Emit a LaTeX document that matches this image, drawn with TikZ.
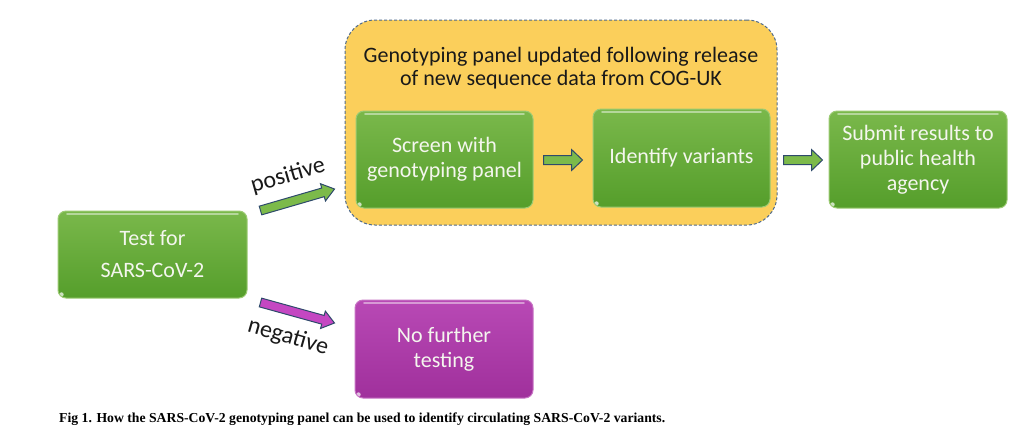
\documentclass[tikz,border=0pt]{standalone}
\usepackage{fontspec}
\setmainfont{Carlito}
\newfontfamily\capfont{Liberation Serif}
\usetikzlibrary{calc}
\definecolor{gtop}{HTML}{7AB84B}
\definecolor{gbot}{HTML}{559E2B}
\definecolor{gedge}{HTML}{9CCB74}
\definecolor{mtop}{HTML}{B849B5}
\definecolor{mbot}{HTML}{A0309C}
\definecolor{medge}{HTML}{C774C4}
\definecolor{panel}{HTML}{FBCF5B}
\definecolor{paneledge}{HTML}{4F6B8C}
\definecolor{arrowedge}{HTML}{2E4A6B}
\definecolor{garrow}{HTML}{7CBA4A}
\definecolor{marrow}{HTML}{C447C2}
\definecolor{boxtext}{HTML}{F4F6EE}
\newcommand\blockarrow[6]{%
  \coordinate (ba-H) at ($(#3)!#6!(#2)$);
  \filldraw[#1] ($(#2)!#4!90:(#3)$) -- ($(ba-H)!#4!-90:(#2)$) -- ($(ba-H)!#5!-90:(#2)$)
    -- (#3) -- ($(ba-H)!#5!90:(#2)$) -- ($(ba-H)!#4!90:(#2)$) -- ($(#2)!#4!-90:(#3)$) -- cycle;}
\tikzset{
  gloss/.style={path picture={
    \draw[white,opacity=0.45,line width=1.6pt,line cap=round]
      ([xshift=9pt,yshift=-3pt]path picture bounding box.north west) --
      ([xshift=-9pt,yshift=-3pt]path picture bounding box.north east);
    \fill[white,opacity=0.7] ([xshift=3.5pt,yshift=3.5pt]path picture bounding box.south west) circle (2.2pt);}},
  greenbox/.style={rectangle, rounded corners=8pt, top color=gtop, bottom color=gbot,
    draw=gedge, line width=1pt, text=boxtext, align=center,
    font=\fontsize{22}{25}\selectfont, gloss},
  magbox/.style={greenbox, top color=mtop, bottom color=mbot, draw=medge},
  panelbox/.style={rectangle, rounded corners=30pt, fill=panel, draw=paneledge,
    dash pattern=on 3pt off 2pt, line width=1pt},
  garrowsty/.style={fill=garrow, draw=arrowedge, line width=1pt, line join=miter},
  marrowsty/.style={fill=marrow, draw=arrowedge, line width=1pt, line join=miter},
  lbl/.style={font=\fontsize{24}{28}\selectfont, text=black!90, inner sep=1pt}
}
\begin{document}
\begin{tikzpicture}[x=1pt,y=-1pt]
\useasboundingbox[fill=white] (0,0) rectangle (1024,432);
% panel
\node[panelbox, minimum width=432pt, minimum height=205pt] (panel) at (561,122.5) {};
\node[font=\fontsize{22}{23.5}\selectfont, text=black!90, align=center] (ptitle) at (561,68)
  {Genotyping panel updated following release\\of new sequence data from COG-UK};
% boxes
\node[greenbox, minimum width=189pt, minimum height=87pt] (test) at (152.5,254.5)
  {Test for\\[7pt]SARS-CoV-2};
\node[greenbox, minimum width=177pt, minimum height=97pt] (screen) at (444.5,159.5)
  {Screen with\\genotyping panel};
\node[greenbox, minimum width=177pt, minimum height=98pt] (ident) at (681.5,158)
  {Identify variants};
\node[greenbox, minimum width=178pt, minimum height=97pt] (submit) at (918,159.5)
  {Submit results to\\public health\\agency};
\node[magbox, minimum width=178pt, minimum height=98pt] (nofurther) at (444,349)
  {No further\\testing};
% arrow end points
\coordinate (pa) at ($(test.north east)+(13,0)$);
\coordinate (pb) at ($(screen.west)+(-21,29.5)$);
\coordinate (na) at ($(test.south east)+(13,4)$);
\coordinate (nb) at ($(nofurther.west)+(-20,-26)$);
\coordinate (sa) at ($(screen.east)+(10,0.5)$);
\coordinate (sb) at ($(ident.west)+(-10,2)$);
\coordinate (ia) at ($(ident.east)+(13,2)$);
\coordinate (ib) at ($(submit.west)+(-6,0.5)$);
\blockarrow{garrowsty}{pa}{pb}{4.5pt}{9pt}{12pt}
\blockarrow{marrowsty}{na}{nb}{4.5pt}{9pt}{12pt}
\blockarrow{garrowsty}{sa}{sb}{4.5pt}{10.5pt}{11pt}
\blockarrow{garrowsty}{ia}{ib}{4.5pt}{10.5pt}{11pt}
% labels
\node[lbl, rotate=16] (pos) at (288,176) {positive};
\node[lbl, rotate=-16] (neg) at (288,337) {negative};
% caption
\node[anchor=base west, inner sep=0pt, text=black] (cap) at (59,422)
  {\resizebox{606pt}{!}{\capfont\bfseries\fontsize{12}{14}\selectfont Fig 1. How the SARS-CoV-2 genotyping panel can be used to identify circulating SARS-CoV-2 variants.}};
\end{tikzpicture}
\end{document}
